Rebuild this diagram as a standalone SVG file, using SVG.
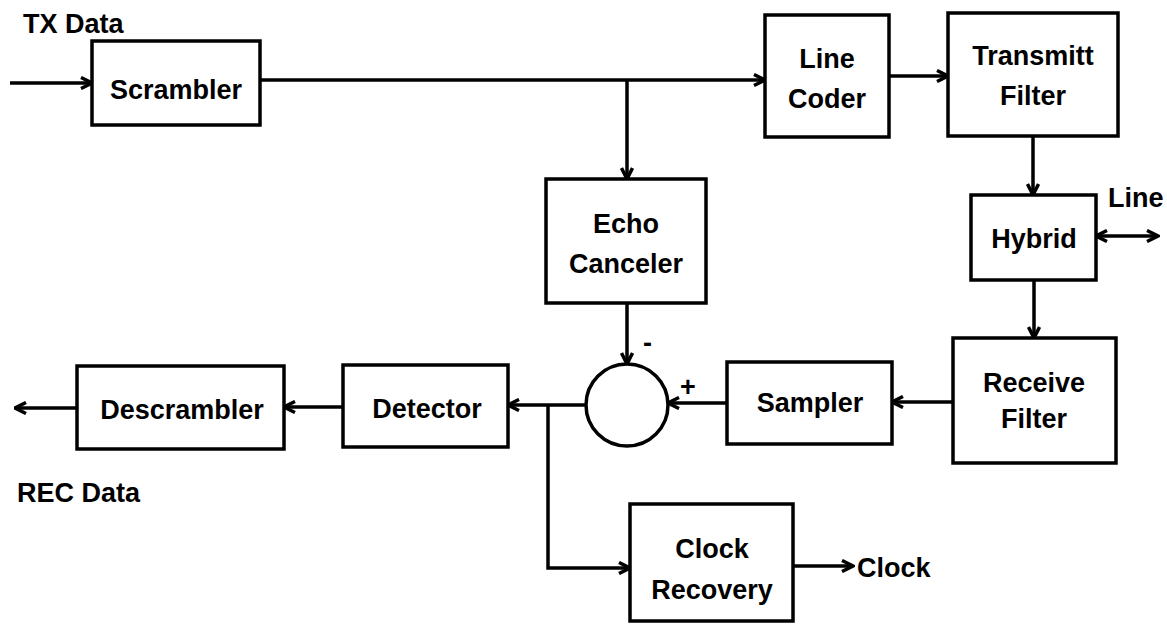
<svg xmlns="http://www.w3.org/2000/svg" width="1167" height="625" viewBox="0 0 1167 625">
<style>
.box{fill:#fff;stroke:#000;stroke-width:3.5}
.t{font-family:"Liberation Sans",Arial,sans-serif;font-weight:bold;font-size:27px;fill:#000;text-anchor:middle}
.l{font-family:"Liberation Sans",Arial,sans-serif;font-weight:bold;font-size:27px;fill:#000}
.c{fill:none;stroke:#000;stroke-width:3.5}
.a{marker-end:url(#ah)}
</style>
<defs>
<marker id="ah" viewBox="0 0 14 14" refX="12.5" refY="7" markerWidth="14" markerHeight="14" markerUnits="userSpaceOnUse" orient="auto-start-reverse">
<path d="M1.5,1.5 L12.5,7 L1.5,12.5" fill="none" stroke="#000" stroke-width="3.5" stroke-linejoin="miter"/>
</marker>
</defs>
<rect width="1167" height="625" fill="#fff"/>
<g id="connectors">
<path class="c a" d="M10,83 H92"/>
<path class="c a" d="M260,80 H765"/>
<path class="c a" d="M627,80 V179"/>
<path class="c a" d="M889,76 H948"/>
<path class="c a" d="M1033,136 V195"/>
<path class="c a" d="M1096,236 H1158" marker-start="url(#ah)"/>
<path class="c a" d="M1034,280 V338"/>
<path class="c a" d="M953,402 H892"/>
<path class="c a" d="M727,403 H668"/>
<path class="c a" d="M627,303 V364"/>
<path class="c a" d="M586,405 H508"/>
<path class="c a" d="M548,405 V568 H630"/>
<path class="c a" d="M343,407 H284"/>
<path class="c a" d="M77,408 H15"/>
<path class="c a" d="M793,566 H853"/>
</g>
<g id="scrambler"><rect class="box" x="92" y="41" width="168" height="84"/><text class="t" x="176" y="99">Scrambler</text></g>
<g id="line-coder"><rect class="box" x="765" y="15" width="124" height="122"/><text class="t" x="827" y="68">Line</text><text class="t" x="827" y="108">Coder</text></g>
<g id="transmitt-filter"><rect class="box" x="948" y="13" width="170" height="123"/><text class="t" x="1033" y="65">Transmitt</text><text class="t" x="1033" y="105">Filter</text></g>
<g id="echo-canceler"><rect class="box" x="546" y="179" width="160" height="124"/><text class="t" x="626" y="233">Echo</text><text class="t" x="626" y="273">Canceler</text></g>
<g id="hybrid"><rect class="box" x="971" y="195" width="125" height="85"/><text class="t" x="1034" y="248">Hybrid</text></g>
<g id="receive-filter"><rect class="box" x="953" y="338" width="163" height="125"/><text class="t" x="1034" y="392">Receive</text><text class="t" x="1034" y="428">Filter</text></g>
<g id="sampler"><rect class="box" x="727" y="362" width="165" height="82"/><text class="t" x="810" y="412">Sampler</text></g>
<g id="summer"><circle cx="627" cy="405" r="41" fill="#fff" stroke="#000" stroke-width="3.5"/><text class="l" x="643" y="352" font-size="24">-</text><text class="l" x="680" y="396" font-size="22">+</text></g>
<g id="detector"><rect class="box" x="343" y="365" width="165" height="82"/><text class="t" x="427" y="418">Detector</text></g>
<g id="descrambler"><rect class="box" x="77" y="366" width="207" height="83"/><text class="t" x="182" y="419">Descrambler</text></g>
<g id="clock-recovery"><rect class="box" x="630" y="504" width="163" height="117"/><text class="t" x="712" y="558">Clock</text><text class="t" x="712" y="599">Recovery</text></g>
<g id="labels">
<text class="l" x="23" y="33">TX Data</text>
<text class="l" x="17" y="502">REC Data</text>
<text class="l" x="1108" y="207">Line</text>
<text class="l" x="857" y="577">Clock</text>
</g>
</svg>
